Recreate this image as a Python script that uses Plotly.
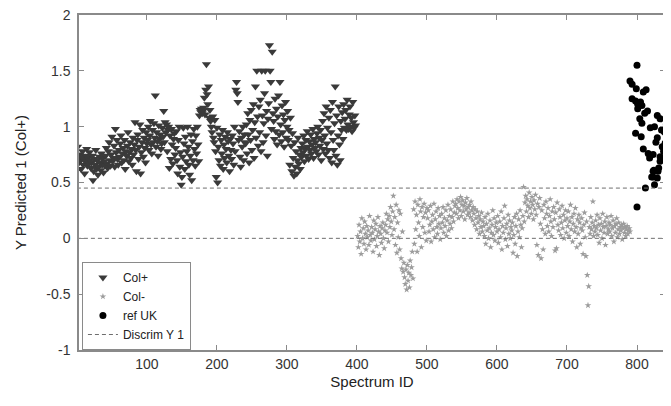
import plotly.graph_objects as go

# ---------------- data ----------------
colp_start_id = 1
colp_values = [
    0.82, 0.72, 0.68, 0.75, 0.70, 0.62, 0.73, 0.78, 0.66, 0.71, 0.58, 0.69, 0.74, 0.80, 0.65, 0.72, 0.67, 0.77, 0.70, 0.63,
    0.68, 0.74, 0.52, 0.60, 0.71, 0.66, 0.79, 0.62, 0.70, 0.57, 0.64, 0.73, 0.68, 0.61, 0.76, 0.66, 0.72, 0.59, 0.69, 0.65,
    0.74, 0.81, 0.67, 0.63, 0.78, 0.86, 0.70, 0.65, 0.75, 0.91, 0.69, 0.72, 0.83, 0.64, 0.98, 0.77, 0.88, 0.71, 0.66, 0.79,
    0.73, 0.85, 0.92, 0.68, 0.76, 0.81, 0.70, 0.88, 0.62, 0.78, 0.74, 0.83, 0.95, 0.69, 0.77, 0.86, 0.72, 0.80, 0.66, 0.90,
    0.75, 0.84, 1.04, 0.79, 0.60, 0.88, 0.93, 0.71, 0.82, 1.02, 0.58, 0.77, 0.86, 0.97, 0.73, 0.90, 0.81, 0.68, 0.95, 0.85,
    0.88, 1.00, 0.79, 0.92, 1.05, 0.84, 0.76, 0.97, 0.86, 1.03, 0.90, 1.28, 0.82, 0.95, 0.87, 0.74, 1.01, 0.89, 0.93, 0.80,
    0.85, 0.99, 0.91, 1.14, 0.86, 1.04, 0.95, 1.02, 0.78, 0.97, 1.00, 0.63, 0.92, 0.71, 0.98, 0.84, 0.67, 0.89, 0.94, 0.75,
    0.81, 0.96, 0.70, 0.58, 0.88, 1.00, 0.64, 0.77, 0.48, 0.55, 0.73, 0.99, 0.85, 0.62, 0.91, 0.69, 0.78, 1.00, 0.82, 0.66,
    0.57, 0.74, 0.93, 0.52, 0.87, 0.70, 0.98, 0.80, 0.65, 0.92, 0.76, 1.00, 0.84, 0.69, 1.10, 1.15, 1.13, 1.16, 1.12, 1.14,
    1.17, 1.26, 1.11, 1.33, 1.56, 1.29, 1.20, 1.36, 1.08, 1.15, 1.05, 1.00, 0.95, 1.09, 0.90, 0.86, 1.06, 0.78, 0.55, 0.99,
    0.50, 0.82, 0.70, 0.93, 0.65, 0.88, 0.76, 0.97, 0.62, 0.84, 0.72, 0.91, 0.80, 0.68, 0.95, 0.87, 0.74, 0.60, 0.89, 0.79,
    0.71, 0.92, 0.85, 0.66, 1.00, 0.78, 1.33, 1.40, 1.30, 1.22, 0.88, 0.96, 0.73, 0.64, 0.90, 0.82, 1.00, 0.70, 0.93, 0.86,
    0.85, 1.02, 0.76, 1.12, 0.93, 0.68, 1.06, 0.88, 1.15, 0.79, 0.97, 1.20, 0.72, 1.04, 1.36, 0.90, 1.50, 1.09, 0.83, 1.18,
    0.95, 1.24, 0.78, 1.50, 1.10, 0.86, 1.03, 1.30, 1.50, 0.92, 1.14, 0.74, 1.07, 1.21, 1.73, 1.50, 1.40, 0.98, 1.67, 1.12,
    1.05, 0.89, 1.25, 0.96, 1.16, 0.84, 1.09, 1.28, 0.93, 1.40, 1.02, 0.87, 1.19, 0.95, 1.11, 0.82, 1.06, 1.22, 0.90, 1.00,
    1.14, 0.88, 0.97, 0.66, 1.08, 0.83, 0.60, 0.94, 0.72, 0.56, 0.86, 0.64, 0.78, 0.58, 0.70, 0.90, 0.67, 0.75, 0.62, 0.81,
    0.73, 0.85, 0.77, 0.92, 0.69, 0.80, 0.88, 0.74, 0.96, 0.82, 0.71, 0.87, 0.79, 0.93, 0.76, 0.84, 0.98, 0.72, 0.89, 0.81,
    0.86, 0.78, 0.94, 1.00, 0.75, 0.90, 0.83, 0.97, 0.70, 0.88, 1.05, 0.80, 1.12, 0.92, 0.76, 1.18, 0.85, 0.99, 0.79, 1.08,
    0.72, 1.15, 0.95, 0.68, 1.22, 0.88, 0.79, 1.03, 1.36, 0.74, 1.10, 0.66, 0.92, 1.18, 0.84, 0.70, 1.05, 0.97, 1.13, 0.89,
    1.20, 0.99, 1.07, 1.15, 0.97, 1.24, 1.02, 0.98, 1.11, 1.18, 1.00, 1.08, 0.96, 1.22, 1.04, 0.99, 1.10, 1.01,
]

colm_start_id = 401
colm_values = [
    0.02, -0.08, 0.12, -0.03, 0.06, -0.14, 0.18, 0.00, 0.09, -0.05, 0.15, 0.04, -0.10, 0.11, 0.01, 0.07, -0.06, 0.20, 0.03, -0.02,
    0.10, 0.05, -0.12, 0.16, -0.01, 0.08, 0.13, -0.07, 0.02, 0.19, 0.06, -0.15, 0.11, 0.04, -0.04, 0.09, 0.14, 0.00, -0.09, 0.07,
    0.12, 0.22, 0.05, 0.17, -0.03, 0.20, 0.10, 0.28, 0.15, 0.03, 0.24, 0.38, 0.08, 0.19, -0.06, 0.30, -0.13, 0.14, 0.01, 0.25,
    -0.10, 0.22, -0.18, -0.27, 0.06, -0.30, -0.22, -0.35, -0.41, -0.28, -0.46, -0.24, -0.38, -0.31, -0.44, -0.20, -0.33, -0.26, -0.12, -0.36,
    0.26, -0.05, 0.33, 0.08, 0.21, -0.12, 0.30, 0.14, 0.02, 0.35, 0.24, -0.08, 0.28, 0.10, 0.19, 0.31, 0.05, 0.23, -0.02, 0.27,
    0.18, 0.25, 0.06, 0.12, 0.29, -0.03, 0.15, 0.21, 0.08, 0.31, 0.01, 0.17, 0.24, 0.10, 0.04, 0.27, 0.13, 0.20, -0.01, 0.09,
    0.22, 0.14, 0.28, 0.05, 0.18, 0.11, 0.25, 0.02, 0.16, 0.30, 0.07, 0.20, 0.13, 0.26, 0.09, 0.19, 0.33, 0.15, 0.23, 0.29,
    0.31, 0.22, 0.35, 0.27, 0.18, 0.33, 0.25, 0.37, 0.20, 0.30, 0.34, 0.24, 0.29, 0.17, 0.32, 0.26, 0.36, 0.21, 0.28, 0.23,
    0.30, 0.19, 0.33, 0.25, 0.16, 0.28, 0.22, 0.12, 0.26, 0.18, 0.08, 0.24, 0.14, 0.20, 0.04, 0.17, 0.10, 0.23, 0.06, 0.15,
    0.11, 0.02, 0.19, -0.05, 0.13, 0.07, 0.22, 0.00, 0.09, 0.16, -0.08, 0.05, 0.12, 0.25, 0.03, 0.18, -0.02, 0.10, 0.14, 0.06,
    0.20, -0.04, 0.08, 0.15, 0.01, 0.24, -0.10, 0.11, 0.05, 0.18, 0.29, -0.01, 0.09, 0.13, -0.07, 0.21, 0.04, 0.16, 0.00, 0.10,
    0.07, 0.14, -0.13, 0.03, 0.19, -0.05, 0.11, 0.22, -0.16, 0.06, 0.17, 0.01, 0.25, 0.12, -0.08, 0.09, 0.20, 0.46, 0.15, 0.32,
    0.38, 0.24, 0.35, 0.29, 0.19, 0.41, 0.27, 0.33, 0.22, 0.37, 0.30, 0.17, 0.34, 0.26, 0.39, 0.21, -0.06, 0.31, -0.15, 0.28,
    0.36, 0.13, -0.18, 0.25, 0.08, -0.10, 0.30, 0.18, 0.04, 0.33, 0.22, 0.11, 0.27, 0.06, 0.20, 0.35, 0.15, 0.02, 0.24, 0.10,
    0.28, 0.17, -0.11, 0.23, -0.09, 0.32, 0.12, 0.07, 0.26, 0.19, 0.03, 0.14, 0.29, 0.09, 0.21, 0.00, 0.16, 0.25, 0.05, 0.18,
    0.11, 0.24, 0.02, 0.15, 0.30, 0.08, 0.19, -0.03, 0.13, 0.22, 0.06, 0.27, 0.10, -0.08, 0.17, 0.04, 0.21, 0.14, -0.05, 0.09,
    0.18, 0.07, -0.14, 0.12, 0.23, 0.01, -0.16, 0.15, -0.33, -0.60, -0.43, 0.10, 0.04, 0.19, 0.08, 0.14, 0.33, 0.02, 0.11, 0.06,
    0.16, 0.09, 0.21, 0.03, 0.12, -0.04, 0.18, 0.07, 0.13, 0.00, 0.22, 0.10, 0.05, 0.15, -0.06, 0.11, 0.19, 0.04, 0.08, 0.14,
    0.06, 0.12, 0.20, 0.02, 0.09, 0.16, -0.03, 0.11, 0.05, 0.13, 0.18, 0.01, 0.08, 0.14, 0.04, 0.10, 0.07, 0.12, -0.01, 0.09,
    0.13, 0.05, 0.10, 0.02, 0.08, 0.11, 0.04, 0.07, 0.09, 0.06,
]

refuk_ids = [800, 790, 793, 799, 813, 809, 793, 798, 805, 801, 807, 815, 801, 829, 833,
             804, 807, 819, 825, 798, 806, 829, 836, 809, 816, 823, 833, 840, 838, 818,
             833, 824, 831, 823, 829, 812, 825, 800, 821, 823, 830, 842, 839, 844, 811,
             827, 835]
refuk_values = [1.55, 1.41, 1.38, 1.34, 1.33, 1.31, 1.25, 1.23, 1.22, 1.20, 1.19, 1.14, 1.16, 1.10, 1.07,
                1.07, 1.03, 0.99, 1.00, 0.94, 0.91, 0.90, 0.82, 0.80, 0.76, 0.75, 0.73, 0.85, 0.78, 0.72,
                0.69, 0.61, 0.63, 0.55, 0.54, 0.45, 0.48, 0.28, 0.55, 0.60, 0.60, 1.02, 0.95, 0.88, 1.12,
                0.86, 0.97]

discrim_levels = [0.45, 0.0]
discrim_span = [0, 850]

x_ticks = [100, 200, 300, 400, 500, 600, 700, 800]
y_ticks = [-1, -0.5, 0, 0.5, 1, 1.5, 2]
y_tick_labels = ["-1", "-0.5", "0", "0.5", "1", "1.5", "2"]

# ---------------- figure ----------------
colp_ids = list(range(colp_start_id, colp_start_id + len(colp_values)))
colm_ids = list(range(colm_start_id, colm_start_id + len(colm_values)))

FONT = "Liberation Sans, Arial, sans-serif"
AXC = "#8a8a8a"

fig = go.Figure()
fig.add_trace(go.Scatter(
    x=colp_ids, y=colp_values, mode="markers", name="Col+",
    marker=dict(symbol="triangle-down", size=8, color="#3a3a3a", line=dict(width=0)),
))
fig.add_trace(go.Scatter(
    x=colm_ids, y=colm_values, mode="markers", name="Col-",
    marker=dict(symbol="star", size=5, color="#9c9c9c", line=dict(width=0)),
))
fig.add_trace(go.Scatter(
    x=refuk_ids, y=refuk_values, mode="markers", name="ref UK",
    marker=dict(symbol="circle", size=7, color="#000000", line=dict(width=0)),
))
dx, dy = [], []
for lev in discrim_levels:
    dx += [discrim_span[0], discrim_span[1], None]
    dy += [lev, lev, None]
fig.add_trace(go.Scatter(
    x=dx, y=dy, mode="lines", name="Discrim Y 1",
    line=dict(color="#6e6e6e", width=1, dash="4px,3px"),
))

# the page body adds an 8px offset; figure is sized to sit inside the 671x406 window
fig.update_layout(
    width=663, height=398,
    margin=dict(l=71, r=6, t=7, b=56, autoexpand=False),
    paper_bgcolor="white", plot_bgcolor="white",
    font=dict(family=FONT, size=14, color="#333333"),
    showlegend=True,
    legend=dict(
        x=0.005, y=0.0, xanchor="left", yanchor="bottom",
        bgcolor="white", bordercolor="#8a8a8a", borderwidth=1,
        font=dict(family=FONT, size=12, color="#222222"),
        tracegroupgap=0, itemwidth=30,
    ),
)
fig.update_xaxes(
    range=[3, 840], tickvals=x_ticks, automargin=False,
    ticks="inside", ticklen=5, tickcolor=AXC, tickwidth=1,
    showline=True, linecolor=AXC, linewidth=1.5, mirror="ticks",
    showgrid=False, zeroline=False, ticklabeloverflow="allow",
    title=dict(text="Spectrum ID", font=dict(size=15, color="#222222"), standoff=6),
    tickfont=dict(size=14, color="#333333"),
)
fig.update_yaxes(
    range=[-1, 2], tickvals=y_ticks, ticktext=y_tick_labels, automargin=False,
    ticks="inside", ticklen=5, tickcolor=AXC, tickwidth=1,
    showline=True, linecolor=AXC, linewidth=1.5, mirror="ticks",
    showgrid=False, zeroline=False, ticklabelstandoff=4, ticklabeloverflow="allow",
    title=dict(text="Y Predicted 1 (Col+)", font=dict(size=15, color="#222222"), standoff=16),
    tickfont=dict(size=14, color="#333333"),
)

fig.write_html("out.html")
